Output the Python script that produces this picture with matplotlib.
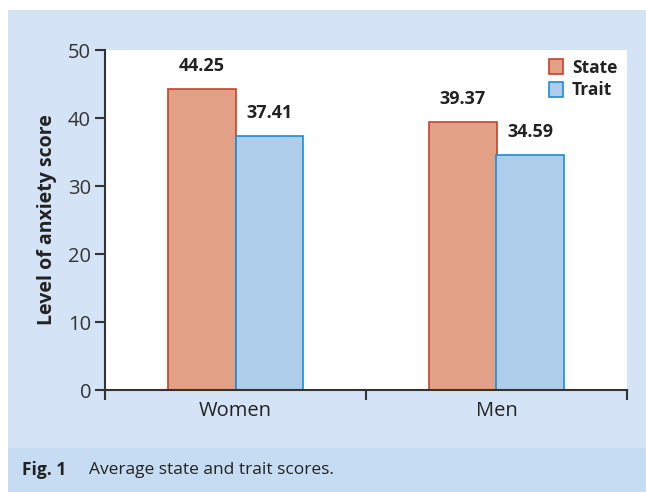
import matplotlib
matplotlib.use("Agg")
import matplotlib.pyplot as plt
from matplotlib.patches import Rectangle

categories = ["Women", "Men"]
state = [44.25, 39.37]
trait = [37.41, 34.59]
series_names = ["State", "Trait"]
yticks = [0, 10, 20, 30, 40, 50]

plt.rcParams['font.family'] = ['Open Sans', 'DejaVu Sans']

W, H = 646, 492
fig = plt.figure(figsize=(W/100, H/100), dpi=100, facecolor='white')

# background panels
fig.patches.append(Rectangle((8/W, 1-448/H), 1-8/W, (448-10)/H, transform=fig.transFigure,
                             facecolor='#D4E3F5', edgecolor='none', zorder=-10))
fig.patches.append(Rectangle((8/W, 0), 1-8/W, (492-448)/H, transform=fig.transFigure,
                             facecolor='#C5DCF2', edgecolor='none', zorder=-10))

ax = fig.add_axes([105/W, 1-390/H, (627-105)/W, (390-50)/H])
ax.set_zorder(5)
ax.set_facecolor('white')

x = [0, 1]
bw = 0.26
c_state_f, c_state_e = '#E2A086', '#C8412B'
c_trait_f, c_trait_e = '#AECDEB', '#1A8ED6'
b1 = ax.bar([i - bw/2 for i in x], state, width=bw, color=c_state_f, edgecolor=c_state_e,
            linewidth=1.2, label=series_names[0], zorder=2)
b2 = ax.bar([i + bw/2 for i in x], trait, width=bw, color=c_trait_f, edgecolor=c_trait_e,
            linewidth=1.2, label=series_names[1], zorder=2)

for bars, vals in ((b1, state), (b2, trait)):
    for r, v in zip(bars, vals):
        ax.annotate(f"{v:.2f}", (r.get_x() + r.get_width()/2, v), xytext=(0, 10),
                    textcoords='offset points', ha='center', va='bottom',
                    fontsize=13, fontweight='bold', color='#222222')

ax.set_xlim(-0.5, 1.5)
ax.set_ylim(0, 50)
ax.set_yticks(yticks)
ax.set_xticks([-0.5, 0.5, 1.5])
ax.set_xticklabels([])
ax.set_xticks(x, minor=True)
ax.set_xticklabels(categories, minor=True)
ax.tick_params(axis='x', which='minor', length=0, pad=8, labelsize=14.5, labelcolor='#222222')
ax.tick_params(axis='x', which='major', length=7, width=1.5, color='#333333', direction='out')
ax.tick_params(axis='y', length=7, width=1.5, color='#333333', labelsize=14.5, labelcolor='#333333', pad=3)

for s in ('top', 'right'):
    ax.spines[s].set_visible(False)
for s in ('left', 'bottom'):
    ax.spines[s].set_color('#333333')
    ax.spines[s].set_linewidth(1.5)

ax.set_ylabel("Level of anxiety score", fontsize=14, fontweight='bold', color='#222222', labelpad=8)

leg = ax.legend(loc='upper right', frameon=False, fontsize=12.5, handlelength=0.85, handleheight=0.95,
                handletextpad=0.5, labelspacing=0.25, borderaxespad=0.0, bbox_to_anchor=(0.995, 0.995))
for t in leg.get_texts():
    t.set_fontweight('bold')
    t.set_color('#222222')

fig.text(22/W, 1-470/H, "Fig. 1", fontsize=12.5, fontweight='bold', va='center', ha='left', color='#222222')
fig.text(89/W, 1-470/H, "Average state and trait scores.", fontsize=12.5, va='center', ha='left', color='#222222')

fig.savefig("out.png", dpi=100, facecolor='white')
